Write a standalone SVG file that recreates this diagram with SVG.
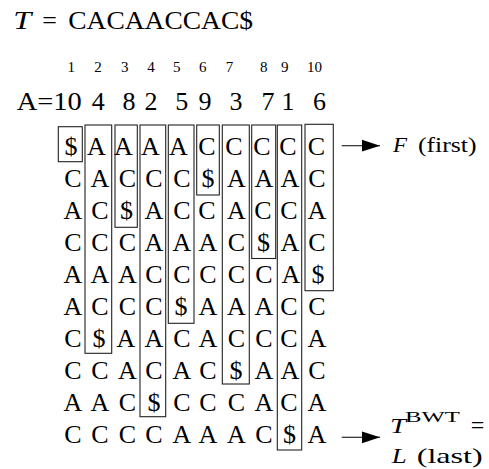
<svg xmlns="http://www.w3.org/2000/svg" width="489" height="469" viewBox="0 0 489 469" font-family="Liberation Serif, serif">
<style>
.t{font-family:"Liberation Serif",serif;fill:#000}
.g{font-family:"Liberation Serif",serif;font-size:26px;text-anchor:middle}
.idx{font-family:"Liberation Serif",serif;font-size:15px;text-anchor:middle}
.sa{font-family:"Liberation Serif",serif;font-size:26px;text-anchor:middle}
.it{font-style:italic}
.box{fill:none;stroke:#222;stroke-width:1.1}
.arr{stroke:#000;stroke-width:1.1;fill:none}
</style>
<defs>
<marker id="ah" markerUnits="userSpaceOnUse" markerWidth="20" markerHeight="14" refX="18.5" refY="6.5" orient="auto">
<path d="M0,0.5 L18.5,6.5 L0,12.5 z" fill="#000"/>
</marker>
</defs>
<rect width="489" height="469" fill="#fff"/>
<g id="title">
<text class="t it" x="13.3" y="29.3" font-size="26" textLength="18" lengthAdjust="spacingAndGlyphs">T</text>
<text class="t" x="49.5" y="29.3" font-size="26" text-anchor="middle">=</text>
<text class="t" x="68.3" y="29.3" font-size="26" textLength="184.7" lengthAdjust="spacingAndGlyphs">CACAACCAC$</text>
</g>
<g id="index-row">
<text class="idx" x="71.3" y="72">1</text>
<text class="idx" x="98" y="72">2</text>
<text class="idx" x="124.7" y="72">3</text>
<text class="idx" x="151" y="72">4</text>
<text class="idx" x="176.7" y="72">5</text>
<text class="idx" x="202.7" y="72">6</text>
<text class="idx" x="229.5" y="72">7</text>
<text class="idx" x="263.7" y="72">8</text>
<text class="idx" x="284.7" y="72">9</text>
<text class="idx" x="314.5" y="72">10</text>
</g>
<g id="suffix-array">
<text class="t" x="16.7" y="110" font-size="26" textLength="65" lengthAdjust="spacingAndGlyphs">A=10</text>
<text class="sa" x="98.3" y="110">4</text>
<text class="sa" x="129" y="110">8</text>
<text class="sa" x="151" y="110">2</text>
<text class="sa" x="181.7" y="110">5</text>
<text class="sa" x="205" y="110">9</text>
<text class="sa" x="236" y="110">3</text>
<text class="sa" x="268" y="110">7</text>
<text class="sa" x="288" y="110">1</text>
<text class="sa" x="319.5" y="110">6</text>
</g>
<g id="col1">
<rect class="box" x="58.3" y="126.7" width="24" height="35"/>
<text class="g" x="71" y="155">$</text>
<text class="g" x="73" y="187">C</text>
<text class="g" x="73" y="219">A</text>
<text class="g" x="73" y="251">C</text>
<text class="g" x="73" y="283">A</text>
<text class="g" x="73" y="315">A</text>
<text class="g" x="73" y="347">C</text>
<text class="g" x="73" y="379">C</text>
<text class="g" x="73" y="411">A</text>
<text class="g" x="73" y="443">C</text>
</g>
<g id="col2">
<rect class="box" x="85" y="125" width="26.7" height="228.3"/>
<text class="g" x="96.5" y="155">A</text>
<text class="g" x="100" y="187">A</text>
<text class="g" x="100" y="219">C</text>
<text class="g" x="100" y="251">C</text>
<text class="g" x="100" y="283">A</text>
<text class="g" x="100" y="315">C</text>
<text class="g" x="99" y="347">$</text>
<text class="g" x="100" y="379">C</text>
<text class="g" x="100" y="411">A</text>
<text class="g" x="100" y="443">C</text>
</g>
<g id="col3">
<rect class="box" x="115" y="125" width="22.3" height="102.3"/>
<text class="g" x="123.5" y="155">A</text>
<text class="g" x="127.5" y="187">C</text>
<text class="g" x="126.5" y="219">$</text>
<text class="g" x="127.5" y="251">C</text>
<text class="g" x="127.5" y="283">A</text>
<text class="g" x="127.5" y="315">C</text>
<text class="g" x="126" y="347">A</text>
<text class="g" x="127.5" y="379">A</text>
<text class="g" x="127.5" y="411">C</text>
<text class="g" x="127.5" y="443">C</text>
</g>
<g id="col4">
<rect class="box" x="140" y="125" width="25.7" height="291.7"/>
<text class="g" x="150.5" y="155">A</text>
<text class="g" x="154" y="187">C</text>
<text class="g" x="154" y="219">A</text>
<text class="g" x="154" y="251">A</text>
<text class="g" x="154" y="283">C</text>
<text class="g" x="154" y="315">C</text>
<text class="g" x="154" y="347">A</text>
<text class="g" x="154" y="379">C</text>
<text class="g" x="154" y="411">$</text>
<text class="g" x="154" y="443">C</text>
</g>
<g id="col5">
<rect class="box" x="168.3" y="125" width="25.7" height="198.3"/>
<text class="g" x="178.5" y="155">A</text>
<text class="g" x="182" y="187">C</text>
<text class="g" x="182" y="219">C</text>
<text class="g" x="182" y="251">A</text>
<text class="g" x="182" y="283">C</text>
<text class="g" x="181" y="315">$</text>
<text class="g" x="182" y="347">C</text>
<text class="g" x="182" y="379">A</text>
<text class="g" x="182" y="411">C</text>
<text class="g" x="182" y="443">A</text>
</g>
<g id="col6">
<rect class="box" x="196.7" y="125" width="22.6" height="70"/>
<text class="g" x="207" y="155">C</text>
<text class="g" x="208" y="187">$</text>
<text class="g" x="207" y="219">C</text>
<text class="g" x="208" y="251">A</text>
<text class="g" x="208" y="283">C</text>
<text class="g" x="208" y="315">A</text>
<text class="g" x="208" y="347">A</text>
<text class="g" x="208" y="379">C</text>
<text class="g" x="208" y="411">C</text>
<text class="g" x="208" y="443">A</text>
</g>
<g id="col7">
<rect class="box" x="222.3" y="125" width="27" height="259"/>
<text class="g" x="234" y="155">C</text>
<text class="g" x="236.5" y="187">A</text>
<text class="g" x="236.5" y="219">A</text>
<text class="g" x="236.5" y="251">C</text>
<text class="g" x="236.5" y="283">C</text>
<text class="g" x="236.5" y="315">A</text>
<text class="g" x="236.5" y="347">C</text>
<text class="g" x="236" y="379">$</text>
<text class="g" x="236.5" y="411">C</text>
<text class="g" x="236.5" y="443">A</text>
</g>
<g id="col8">
<rect class="box" x="251.7" y="125" width="24" height="133.5"/>
<text class="g" x="262" y="155">C</text>
<text class="g" x="264" y="187">A</text>
<text class="g" x="263" y="219">C</text>
<text class="g" x="263.5" y="251">$</text>
<text class="g" x="264" y="283">C</text>
<text class="g" x="264" y="315">A</text>
<text class="g" x="264" y="347">C</text>
<text class="g" x="264" y="379">A</text>
<text class="g" x="264" y="411">A</text>
<text class="g" x="264" y="443">C</text>
</g>
<g id="col9">
<rect class="box" x="277.3" y="125" width="24.4" height="325"/>
<text class="g" x="288" y="155">C</text>
<text class="g" x="290" y="187">A</text>
<text class="g" x="289" y="219">C</text>
<text class="g" x="290" y="251">A</text>
<text class="g" x="291" y="283">A</text>
<text class="g" x="289" y="315">C</text>
<text class="g" x="289" y="347">C</text>
<text class="g" x="290" y="379">A</text>
<text class="g" x="289" y="411">C</text>
<text class="g" x="289.5" y="443">$</text>
</g>
<g id="col10">
<rect class="box" x="305" y="124.3" width="28.3" height="166.4"/>
<text class="g" x="316.5" y="155">C</text>
<text class="g" x="317" y="187">C</text>
<text class="g" x="317" y="219">A</text>
<text class="g" x="317" y="251">C</text>
<text class="g" x="318" y="283">$</text>
<text class="g" x="317" y="315">C</text>
<text class="g" x="317" y="347">A</text>
<text class="g" x="317" y="379">C</text>
<text class="g" x="317" y="411">A</text>
<text class="g" x="317" y="443">A</text>
</g>
<g id="connectors">
<line class="arr" x1="341.7" y1="145.7" x2="380" y2="145.7" marker-end="url(#ah)"/>
<line class="arr" x1="341.7" y1="437.3" x2="380" y2="437.3" marker-end="url(#ah)"/>
</g>
<g id="label-first">
<text class="t it" x="393" y="152.3" font-size="20" textLength="14" lengthAdjust="spacingAndGlyphs">F</text>
<text class="t" x="418" y="152.3" font-size="20" textLength="58.5" lengthAdjust="spacingAndGlyphs">(first)</text>
</g>
<g id="label-last">
<text class="t it" x="390" y="433" font-size="22" textLength="16" lengthAdjust="spacingAndGlyphs">T</text>
<text class="t" x="405" y="421.5" font-size="14" textLength="55" lengthAdjust="spacingAndGlyphs">BWT</text>
<text class="t" x="477.5" y="433" font-size="24" text-anchor="middle">=</text>
<text class="t it" x="391.7" y="463.3" font-size="22" textLength="15" lengthAdjust="spacingAndGlyphs">L</text>
<text class="t" x="416.7" y="463.3" font-size="22" textLength="66" lengthAdjust="spacingAndGlyphs">(last)</text>
</g>
</svg>
